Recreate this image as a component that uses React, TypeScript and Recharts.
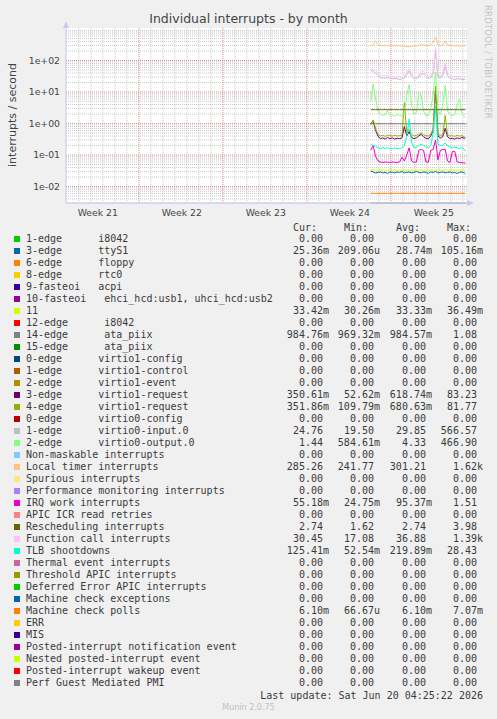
import { LineChart, Line, XAxis, YAxis, CartesianGrid, ReferenceLine } from 'recharts';

// time in days from the left edge of the month window
const TIMES = [
  25.4, 25.6, 25.8, 26.0, 26.2, 26.4, 26.6, 26.8, 27.0, 27.2, 27.4, 27.6, 27.8, 28.0,
  28.2, 28.4, 28.6, 28.8, 29.0, 29.2, 29.4, 29.6, 29.8, 30.0, 30.2, 30.4, 30.6, 30.8,
  31.0, 31.2, 31.4, 31.6, 31.8, 32.0, 32.2, 32.4, 32.6, 32.8, 33.0, 33.2, 33.3,
];

const TTYS1 = [
  0.031, 0.029, 0.027, 0.028, 0.029, 0.027, 0.028, 0.026, 0.029, 0.028, 0.027, 0.029, 0.028, 0.03,
  0.027, 0.028, 0.029, 0.027, 0.028, 0.03, 0.028, 0.027, 0.029, 0.028, 0.026, 0.029, 0.028, 0.03,
  0.027, 0.028, 0.029, 0.027, 0.028, 0.029, 0.027, 0.028, 0.026, 0.028, 0.029, 0.027, 0.025,
];
const IRQ11 = [
  0.0345, 0.0338, 0.0334, 0.0333, 0.0333, 0.0334, 0.0333, 0.0333, 0.0334, 0.0333, 0.0333, 0.0333, 0.0334, 0.0333,
  0.0333, 0.0334, 0.0333, 0.0333, 0.0333, 0.0334, 0.0333, 0.0333, 0.0333, 0.0334, 0.0333, 0.0333, 0.0334, 0.0333,
  0.0333, 0.0333, 0.0334, 0.0333, 0.0333, 0.0333, 0.0334, 0.0333, 0.0333, 0.0333, 0.0334, 0.0333, 0.0334,
];
const ATA14 = [
  0.985, 0.985, 0.985, 0.985, 0.985, 0.985, 0.985, 0.985, 0.985, 0.985, 0.985, 0.985, 0.985, 0.985,
  0.985, 0.985, 0.985, 0.985, 0.985, 0.985, 0.985, 0.985, 0.985, 0.985, 0.985, 0.985, 0.985, 0.985,
  0.985, 0.985, 0.985, 0.985, 0.985, 0.985, 0.985, 0.985, 0.985, 0.985, 0.985, 0.985, 0.985,
];
const V1REQ3 = [
  1.0, 1.2, 0.6, 0.4, 0.33, 0.35, 0.32, 0.36, 0.33, 0.35, 0.32, 0.34, 0.33, 0.35,
  0.8, 0.4, 0.55, 0.36, 0.33, 0.35, 0.4, 0.45, 0.38, 0.34, 0.33, 0.4, 0.6, 12,
  0.4, 0.35, 0.38, 0.7, 0.38, 0.33, 0.34, 0.32, 0.35, 0.33, 0.36, 0.34, 0.35,
];
const V1REQ4 = [
  0.9, 1.3, 0.7, 0.45, 0.4, 0.42, 0.39, 0.43, 0.41, 0.4, 0.42, 0.4, 0.41, 0.43,
  4.5, 0.5, 0.65, 0.45, 0.4, 0.42, 0.45, 0.5, 0.44, 0.41, 0.4, 0.45, 0.7, 15,
  0.45, 0.42, 0.44, 1.8, 0.45, 0.4, 0.41, 0.39, 0.42, 0.4, 0.41, 0.38, 0.35,
];
const V0INPUT = [
  48, 45, 40, 33, 29, 28, 27, 29, 27, 26, 27, 26, 25, 26,
  28, 36, 46, 32, 27, 26, 29, 37, 38, 32, 27, 28, 38, 200,
  30, 27, 34, 65, 33, 27, 26, 25, 26, 26, 25, 25, 24.8,
];
const V0OUTPUT = [
  5, 18, 6, 2.6, 2.0, 1.8, 1.9, 2.6, 1.9, 1.8, 1.7, 1.9, 1.8, 1.7,
  2.2, 8, 17, 4, 1.9, 2.2, 9, 8, 2.5, 1.8, 1.8, 3, 8, 45,
  2.5, 1.9, 4, 16, 2.5, 1.9, 1.8, 1.9, 4, 6, 2, 1.7, 1.5,
];
const LOCAL_TIMER = [
  300, 310, 420, 320, 300, 295, 290, 300, 295, 290, 300, 295, 290, 285,
  280, 275, 270, 280, 290, 285, 300, 320, 310, 300, 295, 300, 380, 560,
  310, 300, 310, 420, 310, 300, 295, 290, 290, 285, 290, 285, 285,
];
const IRQ_WORK = [
  0.14, 0.2, 0.09, 0.065, 0.06, 0.058, 0.06, 0.059, 0.058, 0.06, 0.059, 0.058, 0.06, 0.085,
  0.065, 0.1, 0.17, 0.065, 0.058, 0.06, 0.14, 0.15, 0.14, 0.06, 0.059, 0.14, 0.15, 0.3,
  0.07, 0.14, 0.15, 0.15, 0.065, 0.058, 0.13, 0.13, 0.06, 0.058, 0.057, 0.056, 0.055,
];
const RESCHED = [
  2.74, 2.74, 2.74, 2.74, 2.74, 2.74, 2.74, 2.74, 2.74, 2.74, 2.74, 2.74, 2.74, 2.74,
  2.74, 2.74, 2.74, 2.74, 2.74, 2.74, 2.74, 2.74, 2.74, 2.74, 2.74, 2.74, 2.74, 2.74,
  2.74, 2.74, 2.74, 2.74, 2.74, 2.74, 2.74, 2.74, 2.74, 2.74, 2.74, 2.74, 2.74,
];
const FUNC_CALL = [
  55, 52, 48, 40, 35, 33, 32, 34, 31, 30, 31, 30, 29, 30,
  33, 42, 55, 38, 31, 30, 34, 44, 45, 38, 31, 33, 45, 250,
  35, 31, 40, 80, 40, 32, 31, 30, 31, 32, 31, 30, 30,
];
const TLB = [
  0.22, 0.2, 0.19, 0.17, 0.16, 0.17, 0.16, 0.17, 0.16, 0.16, 0.17, 0.16, 0.16, 0.17,
  0.2, 0.4, 1.4, 0.25, 0.17, 0.18, 0.2, 0.22, 0.2, 0.18, 0.17, 0.2, 0.5, 3.5,
  0.22, 0.2, 0.2, 0.24, 0.2, 0.18, 0.17, 0.18, 0.17, 0.16, 0.17, 0.15, 0.13,
];
const MCE_POLLS = [
  0.0061, 0.0061, 0.0061, 0.0061, 0.0061, 0.0061, 0.0061, 0.0061, 0.0061, 0.0061, 0.0061, 0.0061, 0.0061, 0.0061,
  0.0061, 0.0061, 0.0061, 0.0061, 0.0061, 0.0061, 0.0061, 0.0061, 0.0062, 0.0061, 0.0061, 0.0061, 0.0061, 0.0061,
  0.0061, 0.0061, 0.0061, 0.0061, 0.0061, 0.0061, 0.0061, 0.0061, 0.0061, 0.0061, 0.0061, 0.0061, 0.0061,
];

const WEEK_TICKS = [2.65, 9.65, 16.65, 23.65, 30.65];
const WEEK_LABELS = ['Week 21', 'Week 22', 'Week 23', 'Week 24', 'Week 25'];
const Y_TICKS = [0.01, 0.1, 1, 10, 100];
const Y_LABELS = ['1e-02', '1e-01', '1e+00', '1e+01', '1e+02'];

// label, cur, min, avg, max
const LEGEND_ROWS = [
  ['1-edge      i8042', '0.00 ', '0.00 ', '0.00 ', '0.00 '],
  ['3-edge      ttyS1', '25.36m', '209.06u', '28.74m', '105.16m'],
  ['6-edge      floppy', '0.00 ', '0.00 ', '0.00 ', '0.00 '],
  ['8-edge      rtc0', '0.00 ', '0.00 ', '0.00 ', '0.00 '],
  ['9-fasteoi   acpi', '0.00 ', '0.00 ', '0.00 ', '0.00 '],
  ['10-fasteoi   ehci_hcd:usb1, uhci_hcd:usb2', '0.00 ', '0.00 ', '0.00 ', '0.00 '],
  ['11', '33.42m', '30.26m', '33.33m', '36.49m'],
  ['12-edge      i8042', '0.00 ', '0.00 ', '0.00 ', '0.00 '],
  ['14-edge      ata_piix', '984.76m', '969.32m', '984.57m', '1.08 '],
  ['15-edge      ata_piix', '0.00 ', '0.00 ', '0.00 ', '0.00 '],
  ['0-edge      virtio1-config', '0.00 ', '0.00 ', '0.00 ', '0.00 '],
  ['1-edge      virtio1-control', '0.00 ', '0.00 ', '0.00 ', '0.00 '],
  ['2-edge      virtio1-event', '0.00 ', '0.00 ', '0.00 ', '0.00 '],
  ['3-edge      virtio1-request', '350.61m', '52.62m', '618.74m', '83.23 '],
  ['4-edge      virtio1-request', '351.86m', '109.79m', '680.63m', '81.77 '],
  ['0-edge      virtio0-config', '0.00 ', '0.00 ', '0.00 ', '0.00 '],
  ['1-edge      virtio0-input.0', '24.76 ', '19.50 ', '29.85 ', '566.57 '],
  ['2-edge      virtio0-output.0', '1.44 ', '584.61m', '4.33 ', '466.90 '],
  ['Non-maskable interrupts', '0.00 ', '0.00 ', '0.00 ', '0.00 '],
  ['Local timer interrupts', '285.26 ', '241.77 ', '301.21 ', '1.62k'],
  ['Spurious interrupts', '0.00 ', '0.00 ', '0.00 ', '0.00 '],
  ['Performance monitoring interrupts', '0.00 ', '0.00 ', '0.00 ', '0.00 '],
  ['IRQ work interrupts', '55.18m', '24.75m', '95.37m', '1.51 '],
  ['APIC ICR read retries', '0.00 ', '0.00 ', '0.00 ', '0.00 '],
  ['Rescheduling interrupts', '2.74 ', '1.62 ', '2.74 ', '3.98 '],
  ['Function call interrupts', '30.45 ', '17.08 ', '36.88 ', '1.39k'],
  ['TLB shootdowns', '125.41m', '52.54m', '219.89m', '28.43 '],
  ['Thermal event interrupts', '0.00 ', '0.00 ', '0.00 ', '0.00 '],
  ['Threshold APIC interrupts', '0.00 ', '0.00 ', '0.00 ', '0.00 '],
  ['Deferred Error APIC interrupts', '0.00 ', '0.00 ', '0.00 ', '0.00 '],
  ['Machine check exceptions', '0.00 ', '0.00 ', '0.00 ', '0.00 '],
  ['Machine check polls', '6.10m', '66.67u', '6.10m', '7.07m'],
  ['ERR', '0.00 ', '0.00 ', '0.00 ', '0.00 '],
  ['MIS', '0.00 ', '0.00 ', '0.00 ', '0.00 '],
  ['Posted-interrupt notification event', '0.00 ', '0.00 ', '0.00 ', '0.00 '],
  ['Nested posted-interrupt event', '0.00 ', '0.00 ', '0.00 ', '0.00 '],
  ['Posted-interrupt wakeup event', '0.00 ', '0.00 ', '0.00 ', '0.00 '],
  ['Perf Guest Mediated PMI', '0.00 ', '0.00 ', '0.00 ', '0.00 '],
];

const LEGEND_COLORS = [
  '#00CC00', '#0066B3', '#FF8000', '#FFCC00', '#330099', '#990099', '#CCFF00', '#FF0000',
  '#808080', '#008F00', '#00487D', '#B35A00', '#B38F00', '#6B006B', '#8FB300', '#B30000',
  '#BEBEBE', '#80FF80', '#80C9FF', '#FFC080', '#FFE680', '#AA80FF', '#EE00CC', '#FF8080',
  '#666600', '#FFBFFF', '#00FFCC', '#CC6699', '#999900', '#00CC00', '#0066B3', '#FF8000',
  '#FFCC00', '#330099', '#990099', '#CCFF00', '#FF0000', '#808080',
];

// drawn in legend order, later ones on top
const SERIES = [
  { key: 'ttyS1', values: TTYS1, color: '#0066B3' },
  { key: 'irq11', values: IRQ11, color: '#CCFF00' },
  { key: 'ata14', values: ATA14, color: '#808080' },
  { key: 'v1req3', values: V1REQ3, color: '#6B006B' },
  { key: 'v1req4', values: V1REQ4, color: '#8FB300' },
  { key: 'v0input', values: V0INPUT, color: '#BEBEBE' },
  { key: 'v0output', values: V0OUTPUT, color: '#80FF80' },
  { key: 'localTimer', values: LOCAL_TIMER, color: '#FFC080' },
  { key: 'irqWork', values: IRQ_WORK, color: '#EE00CC' },
  { key: 'resched', values: RESCHED, color: '#666600' },
  { key: 'funcCall', values: FUNC_CALL, color: '#FFBFFF' },
  { key: 'tlb', values: TLB, color: '#00FFCC' },
  { key: 'mcePolls', values: MCE_POLLS, color: '#FF8000' },
];

const X_MAX = 33.42;
const Y_MIN = 0.003;
const Y_MAX = 1070;

// grid: day lines, week lines in red, log minor lines
const WEEK_LINES = [6.08, 13.08, 20.08, 27.08];
const DAY_LINES: number[] = [];
for (let d = 1.08; d < X_MAX; d += 1) {
  if (!WEEK_LINES.some((w) => Math.abs(w - d) < 0.01)) DAY_LINES.push(d);
}
const MINOR_Y: number[] = [];
for (const dec of [0.001, 0.01, 0.1, 1, 10, 100]) {
  for (let k = 2; k <= 9; k++) {
    const v = dec * k;
    if (v >= Y_MIN && v <= Y_MAX) MINOR_Y.push(v);
  }
}

const data = TIMES.map((t, i) => {
  const row: Record<string, number> = { t };
  SERIES.forEach((s) => {
    row[s.key] = s.values[i];
  });
  return row;
});

const MONO = '"DejaVu Sans Mono", monospace';
const SANS = '"DejaVu Sans", sans-serif';
const TXT = '#3a3a3a';
const AXIS = '#c9c9ef';

export default function App() {
  return (
    <div
      style={{
        position: 'absolute',
        left: 0,
        top: 0,
        width: 497,
        height: 719,
        background: '#f0f0f0',
        fontFamily: SANS,
        overflow: 'hidden',
      }}
    >
      <div
        style={{
          position: 'absolute',
          top: 11,
          left: 0,
          width: 497,
          textAlign: 'center',
          fontSize: 12.5,
          color: '#444',
          lineHeight: '16px',
        }}
      >
        Individual interrupts - by month
      </div>

      <div
        style={{
          position: 'absolute',
          left: 483,
          top: 5,
          writingMode: 'vertical-rl',
          fontSize: 8.5,
          color: '#c4c4c4',
          lineHeight: '10px',
          letterSpacing: 0.2,
        }}
      >
        RRDTOOL / TOBI OETIKER
      </div>

      <div
        style={{
          position: 'absolute',
          left: 12,
          top: 115,
          transform: 'translate(-50%, -50%) rotate(-90deg)',
          fontSize: 11,
          color: '#444',
          whiteSpace: 'nowrap',
        }}
      >
        interrupts / second
      </div>

      <div style={{ position: 'absolute', left: 0, top: 0 }}>
        <LineChart width={497} height={225} data={data} margin={{ top: 28, right: 30, left: 8, bottom: 0 }}>
          <CartesianGrid horizontal={false} vertical={false} fill='#ffffff' />
          {DAY_LINES.map((d) => (
            <ReferenceLine key={'d' + d} x={d} stroke='#8c8c8c' strokeOpacity={0.45} strokeDasharray='1 1' />
          ))}
          {MINOR_Y.map((v) => (
            <ReferenceLine key={'m' + v} y={v} stroke='#8c8c8c' strokeOpacity={0.45} strokeDasharray='1 1' />
          ))}
          {WEEK_LINES.map((w) => (
            <ReferenceLine key={'w' + w} x={w} stroke='#c03030' strokeOpacity={0.55} strokeDasharray='1 1' />
          ))}
          {Y_TICKS.map((v) => (
            <ReferenceLine key={'M' + v} y={v} stroke='#c03030' strokeOpacity={0.55} strokeDasharray='1 1' />
          ))}
          <XAxis
            type='number'
            dataKey='t'
            domain={[0, X_MAX]}
            allowDataOverflow
            ticks={WEEK_TICKS}
            tickFormatter={(v) => WEEK_LABELS[WEEK_TICKS.indexOf(v)] ?? ''}
            tickLine={false}
            tickSize={6}
            tickMargin={0}
            height={22}
            axisLine={{ stroke: AXIS }}
            tick={{ fill: '#444', fontSize: 9.3, fontFamily: SANS }}
            interval={0}
          />
          <YAxis
            scale='log'
            type='number'
            domain={[Y_MIN, Y_MAX]}
            allowDataOverflow
            ticks={Y_TICKS}
            tickFormatter={(v) => Y_LABELS[Y_TICKS.indexOf(v)] ?? ''}
            tickLine={false}
            tickSize={6}
            tickMargin={0}
            width={58}
            axisLine={{ stroke: AXIS }}
            tick={{ fill: '#444', fontSize: 9.3, fontFamily: SANS }}
            interval={0}
          />
          {/* zero-valued series sit on the floor of the log axis */}
          <ReferenceLine
            segment={[
              { x: TIMES[0], y: Y_MIN },
              { x: TIMES[TIMES.length - 1], y: Y_MIN },
            ]}
            stroke='#909090'
          />
          {SERIES.map((s) => (
            <Line
              key={s.key}
              type='linear'
              dataKey={s.key}
              stroke={s.color}
              strokeWidth={1}
              dot={false}
              activeDot={false}
              isAnimationActive={false}
            />
          ))}
        </LineChart>
      </div>

      {/* axis arrows */}
      <svg width={497} height={225} style={{ position: 'absolute', left: 0, top: 0, pointerEvents: 'none' }}>
        <polygon points='63,28 69,28 66,21' fill={AXIS} />
        <polygon points='467,200 467,206 474,203' fill={AXIS} />
      </svg>

      <div style={{ fontFamily: MONO, fontSize: 10, color: TXT }}>
        {['Cur:', 'Min:', 'Avg:', 'Max:'].map((h, i) => (
          <div
            key={h}
            style={{ position: 'absolute', top: 222, left: [293, 344, 396, 447][i], lineHeight: '12px', whiteSpace: 'pre' }}
          >
            {h}
          </div>
        ))}
        {LEGEND_ROWS.map((r, i) => {
          const top = 233.3 + 12 * i;
          return (
            <div key={i}>
              <div
                style={{
                  position: 'absolute',
                  left: 14,
                  top: top + 3,
                  width: 6,
                  height: 6,
                  background: LEGEND_COLORS[i],
                }}
              />
              <div style={{ position: 'absolute', left: 26, top, lineHeight: '12px', whiteSpace: 'pre' }}>{r[0]}</div>
              {[329, 380, 432, 483].map((right, j) => (
                <div
                  key={j}
                  style={{
                    position: 'absolute',
                    right: 497 - right,
                    top,
                    lineHeight: '12px',
                    whiteSpace: 'pre',
                    textAlign: 'right',
                  }}
                >
                  {r[j + 1]}
                </div>
              ))}
            </div>
          );
        })}
        <div style={{ position: 'absolute', right: 497 - 483, top: 689.7, lineHeight: '12px', whiteSpace: 'pre' }}>
          Last update: Sat Jun 20 04:25:22 2026
        </div>
      </div>

      <div
        style={{
          position: 'absolute',
          top: 703,
          left: 0,
          width: 497,
          textAlign: 'center',
          fontSize: 8,
          color: '#c0c0c0',
          lineHeight: '10px',
        }}
      >
        Munin 2.0.75
      </div>
    </div>
  );
}
